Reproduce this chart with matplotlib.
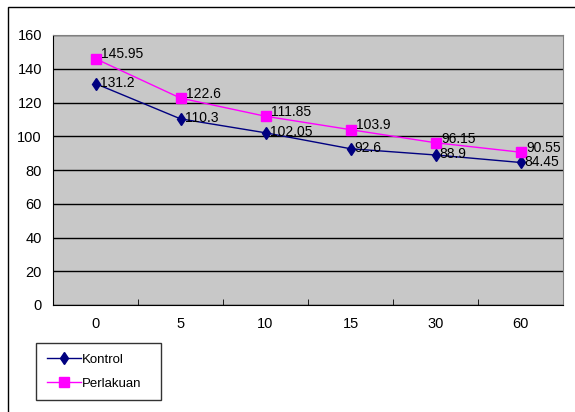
import matplotlib
matplotlib.use("Agg")
import matplotlib.pyplot as plt
from matplotlib.patches import Rectangle

kategori = ["0", "5", "10", "15", "30", "60"]
kontrol = [131.2, 110.3, 102.05, 92.6, 88.9, 84.45]
perlakuan = [145.95, 122.6, 111.85, 103.9, 96.15, 90.55]
label_kontrol = ["131.2", "110.3", "102.05", "92.6", "88.9", "84.45"]
label_perlakuan = ["145.95", "122.6", "111.85", "103.9", "96.15", "90.55"]

plt.rcParams["font.family"] = ["Liberation Sans", "DejaVu Sans"]

fig = plt.figure(figsize=(5.75, 4.12), dpi=100)
ax = fig.add_axes([53 / 575, 1 - 305 / 412, 510 / 575, 270 / 412])

# bingkai luar grafik
fig.patches.append(Rectangle((8 / 575, -0.05), 1.2, 1 - 7 / 412 + 0.05,
                             transform=fig.transFigure, fill=False,
                             edgecolor="#000000", linewidth=1.0))

x = list(range(len(kategori)))
ax.set_facecolor("#c8c8c8")
ax.plot(x, kontrol, color="#000080", marker="d", markersize=6, linewidth=1, label="Kontrol", zorder=3)
ax.plot(x, perlakuan, color="#ff00ff", marker="s", markersize=6.5, linewidth=1, label="Perlakuan", zorder=3)

for xi, v, t in zip(x, kontrol, label_kontrol):
    ax.text(xi + 0.05, v + 0.5, t, fontsize=10, va="center", ha="left", color="#000000")
for xi, v, t in zip(x, perlakuan, label_perlakuan):
    ax.text(xi + 0.07, v + 2.5, t, fontsize=10, va="center", ha="left", color="#000000")

ax.set_xlim(-0.5, len(kategori) - 0.5)
ax.set_ylim(0, 160)
ax.set_yticks(range(0, 161, 20))
ax.yaxis.grid(True, color="#000000", linewidth=1)
ax.set_axisbelow(True)
ax.set_xticks(x)
ax.set_xticklabels(kategori)
ax.set_xticks([i - 0.5 for i in range(len(kategori) + 1)], minor=True)
ax.tick_params(axis="x", which="major", length=0, pad=9, labelsize=10.5)
ax.tick_params(axis="x", which="minor", length=4, direction="in")
ax.tick_params(axis="y", length=0, pad=8, labelsize=10.5)
for s in ["top", "right"]:
    ax.spines[s].set_color("#808080")
for s in ["left", "bottom"]:
    ax.spines[s].set_color("#000000")

leg = ax.legend(loc="upper left",
                bbox_to_anchor=(36 / 575, 1 - 401 / 412, 125 / 575, 58 / 412),
                mode="expand", bbox_transform=fig.transFigure, borderaxespad=0,
                frameon=True, fancybox=False, fontsize=9.5, handlelength=2.6,
                borderpad=0.8, labelspacing=0.9, handletextpad=0.1)
leg.get_frame().set_edgecolor("#000000")
leg.get_frame().set_linewidth(1)

fig.savefig("out.png", dpi=100)
